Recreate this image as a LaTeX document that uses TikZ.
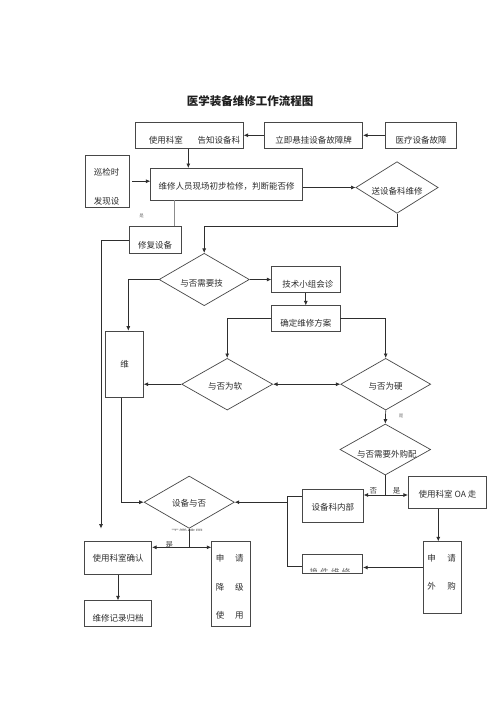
\documentclass[tikz,border=0pt]{standalone}
\usepackage{fontspec}
\setmainfont{Noto Sans CJK SC}
\usetikzlibrary{arrows.meta,shapes.geometric}
\newcommand\lowr[2]{\raisebox{-#1}[\height][\depth]{#2}}
\tikzset{
  fnt/.style={font=\fontsize{8.5}{10}\selectfont, text=black!82},
  box/.style={fnt, draw=black!72, line width=0.7pt, rectangle, inner sep=0pt},
  dia/.style={fnt, draw=black!72, line width=0.7pt, diamond, aspect=1.75, inner sep=0pt},
  tip/.tip={Latex[length=4.5pt,width=4pt]},
  arr/.style={draw=black!82, line width=0.7pt, -tip},
  ln/.style={draw=black!82, line width=0.7pt},
  txt/.style={fnt, inner sep=0pt},
  tiny/.style={font=\fontsize{4.5}{5}\selectfont, text=black!55, inner sep=0pt},
  lbl/.style={font=\fontsize{7.5}{8}\selectfont, text=black!75, inner sep=0pt},
}
\begin{document}
\begin{tikzpicture}[x=1pt,y=-1pt]
\fill[white] (0,0) rectangle (500,707);
\useasboundingbox (0,0) rectangle (500,707);

\node[font=\fontsize{11.5}{13}\selectfont\bfseries, text=black!88, inner sep=0pt] (title) at (250,101) {医学装备维修工作流程图};

% boxes
\node[box, minimum width=107.6pt, minimum height=26pt] (b1) at (189.5,135.3) {\lowr{4.7pt}{\hspace{10pt}使用科室\hspace{15pt}告知设备科}};
\node[box, minimum width=98.4pt, minimum height=26pt] (b2) at (313.5,135.3) {\lowr{4.7pt}{立即悬挂设备故障牌}};
\node[box, minimum width=71.4pt, minimum height=26pt] (b3) at (421,135.3) {\lowr{4.7pt}{医疗设备故障}};
\node[box, minimum width=44pt, minimum height=52.3pt] (b4) at (107,181.2) {};
\node[txt] (b4a) at (106.7,172.7) {巡检时};
\node[txt] (b4b) at (106.7,201) {发现设};
\node[box, minimum width=151.6pt, minimum height=31.7pt] (b5) at (226.5,184.2) {\lowr{2.5pt}{维修人员现场初步检修，判断能否修}};
\node[dia, minimum width=82.3pt, minimum height=51.6pt] (d1) at (397,187.5) {\lowr{4.2pt}{送设备科维修}};
\node[box, minimum width=52pt, minimum height=26.6pt] (b6) at (155,240) {\lowr{5pt}{修复设备}};
\node[dia, minimum width=90.3pt, minimum height=52.4pt] (d2) at (204.2,279.5) {\lowr{3.8pt}{与否需要技\hspace{5pt}}};
\node[box, minimum width=68.3pt, minimum height=26.7pt] (b7) at (305.8,279.3) {\lowr{4.7pt}{\hspace{4pt}技术小组会诊}};
\node[box, minimum width=68.3pt, minimum height=26pt] (b8) at (305.8,318.7) {\lowr{4.6pt}{确定维修方案}};
\node[dia, minimum width=91pt, minimum height=51.7pt] (d3) at (227.2,384.2) {\lowr{2.5pt}{与否为软\hspace{4pt}}};
\node[dia, minimum width=90pt, minimum height=51.7pt] (d4) at (385.7,384.2) {\lowr{2.5pt}{与否为硬}};
\node[box, minimum width=37.6pt, minimum height=66.3pt] (b9) at (124.5,364.2) {维};
\node[dia, minimum width=90.7pt, minimum height=51pt] (d5) at (385.3,449.5) {\lowr{4.8pt}{\hspace{3pt}与否需要外购配}};
\node[box, minimum width=61pt, minimum height=33.7pt] (b10) at (332.8,505.8) {\lowr{1pt}{设备科内部}};
\node[box, minimum width=78.4pt, minimum height=32.3pt] (b11) at (447.5,492.2) {\lowr{2pt}{使用科室 OA 走}};
\node[box, minimum width=38.4pt, minimum height=71.6pt] (b12) at (442.5,577.5) {};
\node[txt] (b12a) at (441.7,558.3) {申\hspace{11.5pt}请};
\node[txt] (b12b) at (441.7,586.7) {外\hspace{11.5pt}购};
\node[box, minimum width=60.4pt, minimum height=18.7pt] (b13) at (332.5,563.7) {};
\begin{scope}
  \clip (303,555) rectangle (362,571.3);
  \node[txt, text=black!60] (b13t) at (330,572.3) {换\hspace{2.3pt}件\hspace{2.3pt}维\hspace{2.3pt}修};
\end{scope}
\node[dia, minimum width=90.3pt, minimum height=52.3pt] (d6) at (189.2,502.2) {\lowr{1pt}{设备与否}};
\begin{scope}
  \clip (165,527.9) rectangle (212,530.6);
  \node[txt, text=black!50, font=\fontsize{8}{9}\selectfont] (d6t) at (187,532.2) {正常使用};
\end{scope}
\node[box, minimum width=67.4pt, minimum height=32.6pt] (b14) at (118,558) {使用科室确认};
\node[box, minimum width=67.4pt, minimum height=26pt] (b15) at (118,613.7) {\lowr{4.6pt}{维修记录归档}};
\node[box, minimum width=38.3pt, minimum height=85pt] (b16) at (230.8,584.2) {};
\node[txt] (b16a) at (229.7,558.3) {申\hspace{10.8pt}请};
\node[txt] (b16b) at (229.7,587.7) {降\hspace{10.8pt}级};
\node[txt] (b16c) at (229.7,615.7) {使\hspace{10.8pt}用};

% coordinates
\coordinate (c1) at (397,226.7);
\coordinate (c3) at (174,0);
\coordinate (c4) at (101,240);
\coordinate (c5) at (101,528.5);
\coordinate (c6) at (128.3,0);
\coordinate (c7) at (121,0);
\coordinate (c8) at (385.3,495);
\coordinate (c9) at (438.3,0);
\coordinate (c10) at (0,567.5);
\coordinate (c11) at (287.3,496);
\coordinate (c12) at (287.3,566.7);
\coordinate (c13) at (189.2,547.3);

% connectors
\draw[arr] (b3.west) -- (b2.east);
\draw[arr] (b2.west) -- (b1.east);
\draw[arr] ([xshift=-1.2pt]b1.south) -- ([xshift=-1.2pt]b1.south |- b5.north);
\draw[arr] ([xshift=2.7pt]b4.east) -- (b4.east -| b5.west);
\draw[arr] (b5.east |- d1.west) -- (d1.west);
\draw[arr] (d1.south) -- (c1) -- (c1 -| d2.north) -- (d2.north);
\draw[ln, draw=black!45] (b5.south -| c3) -- (b6.north -| c3);
\draw[arr] (b6.west) -- (c4) -- (c5);
\draw[arr] (d2.east) -- (d2.east -| b7.west);
\draw[arr] (d2.west) -- (d2.west -| c6) -- (b9.north -| c6);
\draw[arr] (b7.south) -- (b8.north);
\draw[arr] (b8.west) -- (b8.west -| d3.north) -- (d3.north);
\draw[arr] (b8.east) -- (b8.east -| d4.north) -- (d4.north);
\draw[ln, tip-tip] (d3.east) -- (d4.west);
\draw[arr] (d3.west) -- (d3.west -| b9.east);
\draw[arr] (b9.south -| c7) -- (d6.west -| c7) -- (d6.west);
\draw[arr] (d4.south) -- (d5.north);
\draw[ln] (d5.south) -- (c8);
\draw[arr] (c8) -- (c8 -| b10.east);
\draw[arr] (c8) -- (c8 -| b11.west);
\draw[arr] (b11.south -| c9) -- (b12.north -| c9);
\draw[arr] (b12.west |- c10) -- (b13.east |- c10);
\draw[ln] (b10.west |- c11) -- (c11) -- (c12) -- (c12 -| b13.west);
\draw[arr] (c11 |- d6.east) -- (d6.east);
\draw[ln] (d6.south) -- (c13);
\draw[arr] (c13) -- (c13 -| b14.east);
\draw[arr] (c13) -- (c13 -| b16.west);
\draw[arr] (b14.south) -- (b15.north);

% labels
\node[tiny] (l1) at (141.7,216) {是};
\node[tiny] (l2) at (401,416) {是};
\node[lbl] (l3) at (169.3,544.5) {是};
\node[lbl] (l4) at (373.3,491) {否};
\node[lbl] (l5) at (396.7,491) {是};
\end{tikzpicture}
\end{document}
